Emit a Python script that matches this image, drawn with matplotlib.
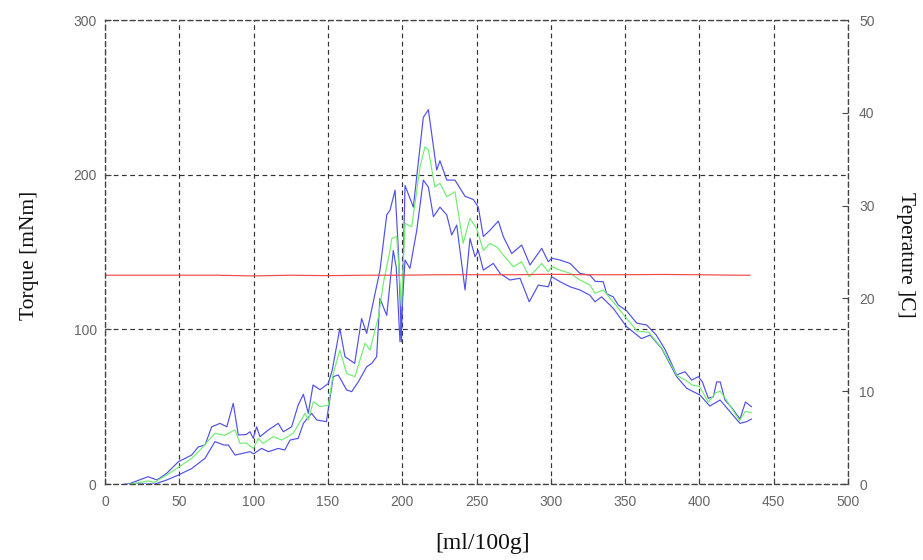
import matplotlib
matplotlib.use("Agg")
import matplotlib.pyplot as plt

# ---------------- data ----------------
x_upper = [16, 20, 29, 35, 41.5, 49.4, 58.3, 62.8, 67.3, 71.8, 77.4, 82, 86.3, 89.7, 95, 97.6,
           99.8, 102, 104.3, 110, 116.6, 120, 125.6, 130, 133.5, 136.8, 140, 144.7, 150.3, 153,
           158, 161.5, 165, 168, 172.7, 176.1, 181.7, 185, 189.6, 191.8, 195.2, 197.5, 199.5,
           201.9, 207.5, 214.2, 217.6, 223.2, 225.4, 230, 235.5, 242.3, 247.8, 251.2, 254.6, 259,
           264.7, 268, 273.7, 280.4, 286, 293.9, 298.3, 300.6, 306.2, 313, 319.6, 326.4, 330,
           335.3, 337.6, 342, 345.4, 351, 357.8, 364.5, 371, 376.9, 384.7, 390.3, 394.8, 399.3,
           402, 406, 409.4, 411.6, 414, 417.2, 422, 427.3, 431, 435]
torque_upper = [0, 1.5, 4.7, 2.6, 6.9, 14.4, 18.7, 24, 25.2, 37, 39.2, 37, 52.2, 31.7, 32, 33.8,
                29.5, 37, 30.6, 35, 39.2, 33.8, 37, 51, 58, 45.7, 64, 61, 65, 74,
                100.6, 82.3, 80, 78, 107, 97.4, 123, 138, 174, 177, 190, 150, 92,
                193, 179, 237, 242, 203, 209, 196.5, 196.5, 186, 184, 179, 160, 164,
                170, 160, 149, 154.5, 141.6, 152.4, 143.7, 146, 144.8, 142.6, 136.2, 135, 131,
                130.8, 123, 121, 115.7, 112, 104, 102.8, 96.3, 87, 70.5, 72.6, 67.2, 69.4,
                66, 55.4, 56.4, 66, 66, 54.3, 49, 42, 53, 50]

x_lower = [13.5, 25, 33.6, 41.5, 49.4, 58.3, 67.3, 74, 80, 83, 87.5, 97.6, 100, 105.4, 110,
           116.6, 121, 124.5, 130, 133.5, 139, 142.5, 149, 153.6, 157, 162.6, 166, 170.5, 176.1,
           179.5, 182.8, 185, 189.6, 194, 196, 198.5, 201.9, 205.2, 209.8, 214.2, 217.6, 221,
           225.4, 230, 233.3, 236.7, 242.3, 245.6, 249, 251.2, 254.6, 261.3, 266, 272.5, 279.3,
           285.5, 291.6, 298.3, 300.6, 306.2, 313, 319.7, 326.4, 329.7, 334.2, 342, 351, 361,
           366.8, 374.6, 384.7, 391.4, 400.4, 407, 413.9, 427.3, 431.8, 435]
torque_lower = [0, 0, 0, 2.6, 5.8, 10, 16.6, 27.4, 25.2, 25.2, 18.7, 20.9, 19.5, 23, 20.9,
                23, 22, 28.4, 29.5, 39.2, 45.7, 41.4, 40.3, 69.4, 70.5, 60.8, 59.7, 66.1, 75.8,
                78, 82.3, 120, 109, 151, 140, 92, 144.8, 139.4, 164, 196.5, 192, 172.8,
                179, 174, 161, 167.4, 125.4, 158.8, 147, 151, 138.3, 142.6, 136, 131.9, 133,
                117.8, 128.6, 127.5, 134, 130.8, 127.5, 125.4, 122, 117.8, 121, 113.6, 101.7, 94,
                96.3, 87.7, 69.4, 61.9, 57.5, 50.4, 54.3, 39.2, 40.3, 42]

x_mean = [17, 29, 33, 41.5, 50, 58.3, 64, 74, 80.5, 87.5, 90.8, 95, 99.8, 103.2, 106.4, 113.3,
          119, 126.7, 134.6, 136.8, 140.2, 144.7, 150.3, 153.6, 158, 162.6, 168.2, 175, 178.3,
          184, 187.3, 191.8, 193, 196.3, 199.5, 201.9, 206.4, 212, 215.3, 217.6, 222, 225.4,
          230, 235.5, 241, 245.6, 250, 254.6, 259, 264, 268, 274.8, 280.4, 285.5, 293.9, 298.3,
          300.6, 306.2, 313, 319.7, 326.4, 329.7, 335.3, 342, 351, 358, 366, 375, 385, 391, 395,
          400, 406, 411, 414, 417, 427, 431, 435]
torque_mean = [0, 2, 1, 5.8, 11.2, 16.6, 22, 32.8, 31.5, 35, 26.3, 26.5, 23, 29.5, 26.3, 30.6,
               28.4, 32.8, 45.7, 41.4, 53.2, 50, 51, 71.5, 86.6, 71.5, 69.4, 91, 86.6,
               108, 129.7, 151, 158.8, 160, 115, 168.5, 166.3, 205, 218, 216, 192, 194.4,
               185.7, 189, 155.6, 171.8, 165.3, 151, 155.6, 153, 148, 140.5, 143.7, 134, 142.6, 137.2,
               140.5, 138.3, 136.2, 131.9, 128.6, 123.3, 125.4, 117.8, 107, 99, 98, 87.5, 70, 67, 64,
               63, 53, 59, 60, 56, 41, 47, 46]

x_temp = [0, 25, 50, 75, 100, 125, 150, 175, 200, 225, 250, 275, 300, 325, 350, 375, 400, 425, 434]
temperature = [22.5, 22.5, 22.5, 22.5, 22.42, 22.5, 22.45, 22.5, 22.5, 22.55, 22.55, 22.55,
               22.6, 22.55, 22.55, 22.58, 22.55, 22.5, 22.5]

x_ticks = [0, 50, 100, 150, 200, 250, 300, 350, 400, 450, 500]
torque_ticks = [0, 100, 200, 300]
temp_ticks = [0, 10, 20, 30, 40, 50]

# ---------------- figure ----------------
fig = plt.figure(figsize=(9.23, 5.6), dpi=100)
ax = fig.add_axes([105/923, 1 - 484/560, (848 - 105)/923, (484 - 20)/560])
ax2 = ax.twinx()

blue = "#5050e8"
green = "#70ee70"
red = "#f04848"

ax.plot(x_upper, torque_upper, color=blue, lw=0.85)
ax.plot(x_lower, torque_lower, color=blue, lw=0.85)
ax.plot(x_mean, torque_mean, color=green, lw=0.85)
ax2.plot(x_temp, temperature, color=red, lw=0.85)

ax.set_xlim(0, 500)
ax.set_ylim(0, 300)
ax2.set_ylim(0, 50)
ax.set_xticks(x_ticks)
ax.set_yticks(torque_ticks)
ax2.set_yticks(temp_ticks)

dash = (0, (4, 3))
ax.grid(True, color="#333333", linestyle=dash, linewidth=0.85)
for a in (ax, ax2):
    for s in a.spines.values():
        s.set_linestyle(dash)
        s.set_color("#444444")
        s.set_linewidth(0.85)

tick_family = ["Liberation Sans Narrow", "Liberation Sans", "DejaVu Sans"]
for a in (ax, ax2):
    a.tick_params(direction="in", length=4, color="#444444", labelcolor="#666666", width=0.8)
    for lab in a.get_xticklabels() + a.get_yticklabels():
        lab.set_fontfamily(tick_family)
        lab.set_fontsize(10)
ax.tick_params(axis="x", pad=8)
ax.tick_params(axis="y", pad=6)
ax2.tick_params(axis="y", pad=8)

serif = ["Liberation Serif", "DejaVu Serif"]
fig.text(30/923, 1 - 255/560, "Torque [mNm]", rotation=90, ha="center", va="center",
         family=serif, fontsize=15.5, color="#111111")
fig.text(906/923, 1 - 255/560, "Teperature ]C]", rotation=270, ha="center", va="center",
         family=serif, fontsize=15.5, color="#111111")
fig.text(483/923, 1 - 543/560, "[ml/100g]", ha="center", va="center",
         family=serif, fontsize=17, color="#111111")

fig.savefig("out.png", dpi=100)
